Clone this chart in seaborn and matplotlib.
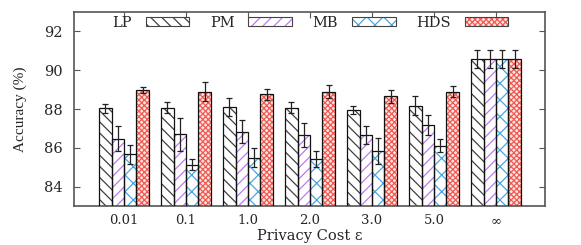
import matplotlib
matplotlib.use("Agg")
import matplotlib.pyplot as plt
import numpy as np
import pandas as pd
import seaborn as sns
from matplotlib.patches import Patch

sns.set_style("ticks")
plt.rcParams['font.family'] = ['Liberation Serif', 'DejaVu Serif']
plt.rcParams['hatch.linewidth'] = 0.9

# data
groups = ["0.01", "0.1", "1.0", "2.0", "3.0", "5.0", "\u221e"]
methods = ["LP", "PM", "MB", "HDS"]
lp = [88.03, 88.07, 88.10, 88.07, 87.96, 88.17, 90.59]
lp_err = [0.24, 0.30, 0.46, 0.30, 0.20, 0.50, 0.47]
pm = [86.48, 86.69, 86.83, 86.67, 86.65, 87.19, 90.59]
pm_err = [0.65, 0.83, 0.60, 0.62, 0.47, 0.52, 0.47]
mb = [85.66, 85.14, 85.49, 85.42, 85.83, 86.11, 90.59]
mb_err = [0.50, 0.30, 0.49, 0.43, 0.67, 0.35, 0.47]
hds = [88.99, 88.90, 88.75, 88.89, 88.65, 88.89, 90.59]
hds_err = [0.17, 0.50, 0.27, 0.33, 0.33, 0.29, 0.47]

values = [lp, pm, mb, hds]
errors = [lp_err, pm_err, mb_err, hds_err]

df = pd.DataFrame({
    "eps": groups * len(methods),
    "method": [m for m in methods for _ in groups],
    "acc": [v for vals in values for v in vals],
})

# hatch colour, hatch pattern, face colour per method
styles = {
    "LP": ("#404040", "\\\\\\", "white"),
    "PM": ("#c078f0", "///", "white"),
    "MB": ("#4aa6e0", "xx", "white"),
    "HDS": ("#f05a52", "xxxxxx", "#ffe4e2"),
}

fig = plt.figure(figsize=(5.81, 2.45), dpi=100)
ax = fig.add_axes([0.127, 0.159, 0.811, 0.792])

sns.barplot(data=df, x="eps", y="acc", hue="method", order=groups,
            hue_order=methods, errorbar=None, width=0.8, ax=ax, legend=False)

for cont, m, err in zip(ax.containers, methods, errors):
    hc, hatch, fc = styles[m]
    xs, ys = [], []
    for bar in cont:
        bar.set_facecolor(fc)
        bar.set_edgecolor(hc)
        bar.set_hatch(hatch)
        bar.set_linewidth(0)
        x0, w, h = bar.get_x(), bar.get_width(), bar.get_height()
        ax.add_patch(plt.Rectangle((x0, 0), w, h, fill=False,
                                   edgecolor="#111111", linewidth=0.9, zorder=3))
        xs.append(x0 + w / 2)
        ys.append(h)
    ax.errorbar(xs, ys, yerr=err, fmt="none", ecolor="#222222",
                elinewidth=0.9, capsize=2.5, capthick=0.9, zorder=4)

ax.set_ylim(83, 93)
ax.set_xlim(-0.81, 6.79)
ax.set_yticks([84, 86, 88, 90, 92])
ax.set_ylabel("Accuracy (%)", fontsize=11, labelpad=12)
ax.set_xlabel("Privacy Cost \u03b5", fontsize=10.5, family=['DejaVu Serif'], labelpad=1)
ax.tick_params(axis="both", direction="in", length=4, width=0.8,
               top=True, right=True, color="#555555")
ax.tick_params(axis="y", labelsize=10.5, pad=8)
ax.tick_params(axis="x", labelsize=9.5, pad=6)
for lab in ax.get_xticklabels() + ax.get_yticklabels():
    lab.set_family(['DejaVu Serif'])
for sp in ax.spines.values():
    sp.set_color("#555555")
    sp.set_linewidth(1.2)

handles = []
for m in methods:
    hc, hatch, fc = styles[m]
    handles.append((Patch(facecolor=fc, edgecolor=hc, hatch=hatch, linewidth=0),
                    Patch(fill=False, edgecolor="#444444", linewidth=0.8)))
leg = ax.legend(handles, methods, loc="center", bbox_to_anchor=(0.502, 0.945),
                ncol=4, frameon=False, markerfirst=False, handlelength=3.0,
                handleheight=0.5, handletextpad=0.95, columnspacing=1.4,
                prop={'family': ['DejaVu Serif'], 'size': 10.5})

fig.savefig("out.png", dpi=100)
